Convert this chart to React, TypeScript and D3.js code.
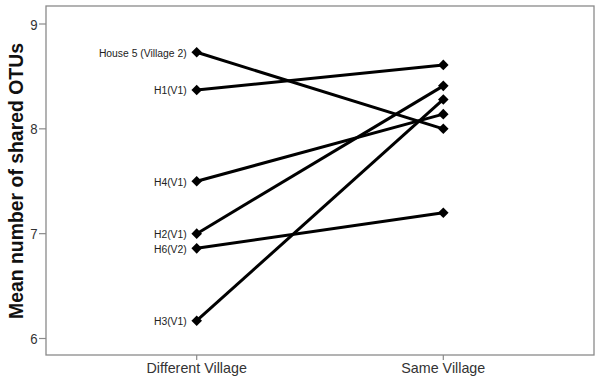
import React from "react";
import * as d3 from "d3";

const categories = ["Different Village", "Same Village"];
const houses = ["House 5 (Village 2)", "H1(V1)", "H4(V1)", "H2(V1)", "H6(V2)", "H3(V1)"];
const differentVillage = [8.73, 8.37, 7.5, 7.0, 6.86, 6.17];
const sameVillage = [8.0, 8.61, 8.14, 8.41, 7.2, 8.28];
const yTicks = [6, 7, 8, 9];

const W = 600;
const H = 382;
const left = 46;
const right = 594;
const top = 6;
const bottom = 355;

export default function App() {
  const y = d3.scaleLinear().domain([9, 6]).range([24, 338.5]);
  const x = d3.scalePoint<string>().domain(categories).range([196.7, 443.3]);
  const diamond = d3.symbol().type(d3.symbolSquare).size(56)();
  const line = d3
    .line<[string, number]>()
    .x((d) => x(d[0]) as number)
    .y((d) => y(d[1]));

  return (
    <svg
      width={W}
      height={H}
      style={{ position: "absolute", left: 0, top: 0, background: "#fff" }}
      fontFamily="Liberation Sans, Arial, sans-serif"
    >
      <rect
        x={left}
        y={top}
        width={right - left}
        height={bottom - top}
        fill="none"
        stroke="#8a8a8a"
        strokeWidth={1.3}
      />
      {yTicks.map((t) => (
        <g key={t}>
          <line x1={left - 7} x2={left} y1={y(t)} y2={y(t)} stroke="#8a8a8a" strokeWidth={1.2} />
          <g transform={`translate(${left - 8.5},${y(t)}) scale(0.88,1)`}>
            <text x={0} y={0} dy="0.37em" textAnchor="end" fontSize={15} fill="#333">
              {t}
            </text>
          </g>
        </g>
      ))}
      {categories.map((c) => (
        <g key={c}>
          <line x1={x(c)} x2={x(c)} y1={bottom} y2={bottom + 5} stroke="#8a8a8a" strokeWidth={1.2} />
          <text x={x(c)} y={bottom + 18} textAnchor="middle" fontSize={14.3} fill="#333">
            {c}
          </text>
        </g>
      ))}
      <text
        transform={`translate(23,181) rotate(-90)`}
        textAnchor="middle"
        fontSize={20}
        fontWeight="bold"
        fill="#111"
        textLength={276}
        lengthAdjust="spacingAndGlyphs"
      >
        Mean number of shared OTUs
      </text>
      {houses.map((h, i) => {
        const pts: [string, number][] = [
          [categories[0], differentVillage[i]],
          [categories[1], sameVillage[i]],
        ];
        return (
          <g key={h}>
            <path d={line(pts) as string} fill="none" stroke="#000" strokeWidth={3} />
            {pts.map((p, j) => (
              <path
                key={j}
                d={diamond as string}
                transform={`translate(${x(p[0])},${y(p[1])}) rotate(45)`}
                fill="#000"
              />
            ))}
            <g transform={`translate(${(x(categories[0]) as number) - 10},${y(differentVillage[i])}) scale(0.9,1)`}>
              <text x={0} y={0} dy="0.38em" textAnchor="end" fontSize={11.5} fill="#222">
                {h}
              </text>
            </g>
          </g>
        );
      })}
    </svg>
  );
}
